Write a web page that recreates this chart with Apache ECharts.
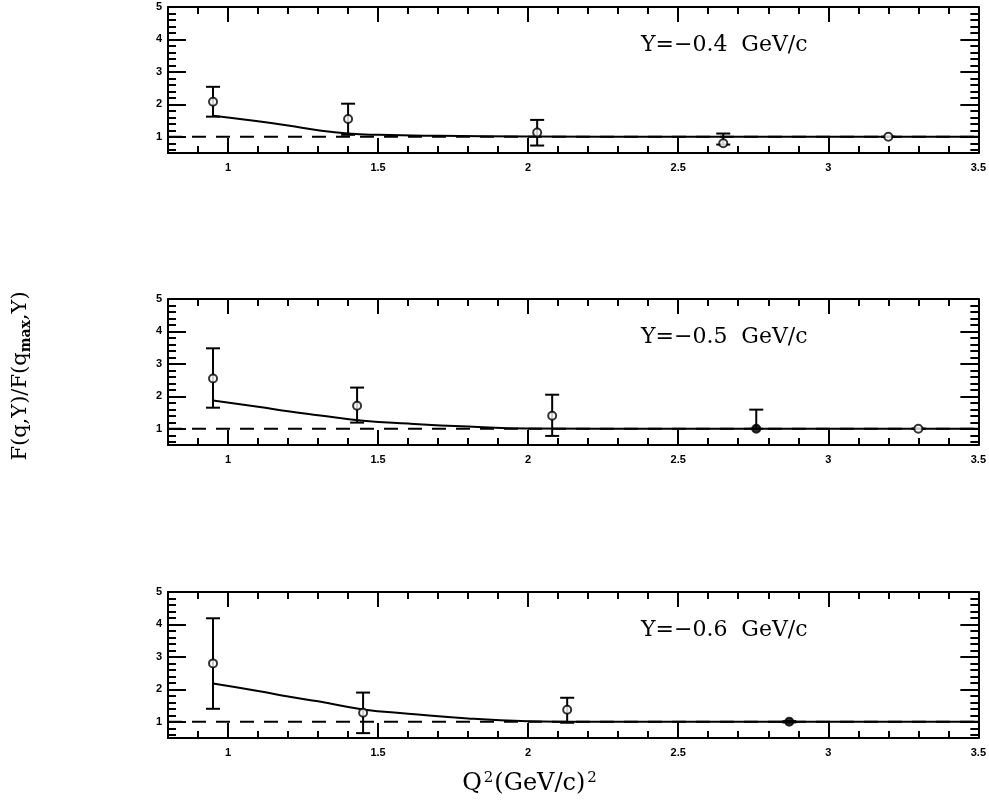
<!DOCTYPE html>
<html>
<head>
<meta charset="utf-8">
<script src="https://cdn.jsdelivr.net/npm/echarts@6.0.0/dist/echarts.min.js"></script>
<style>
  html, body { margin: 0; padding: 0; background: #fff; }
  #chart { width: 989px; height: 803px; }
</style>
</head>
<body>
<div id="chart"></div>
<script>
  // tick values
  const xMajor = [1, 1.5, 2, 2.5, 3, 3.5];
  const xMinor = [0.9, 1.1, 1.2, 1.3, 1.4, 1.6, 1.7, 1.8, 1.9, 2.1, 2.2, 2.3, 2.4,
                  2.6, 2.7, 2.8, 2.9, 3.1, 3.2, 3.3, 3.4];
  const yMajor = [1, 2, 3, 4, 5];
  const yMinor = [0.6, 0.8, 1.2, 1.4, 1.6, 1.8, 2.2, 2.4, 2.6, 2.8, 3.2, 3.4, 3.6, 3.8,
                  4.2, 4.4, 4.6, 4.8];

  // panel labels
  const panelLabels = ['Y=\u22120.4  GeV/c', 'Y=\u22120.5  GeV/c', 'Y=\u22120.6  GeV/c'];

  // Y = -0.4
  const q1 = [0.95, 1.40, 2.03, 2.65, 3.20];
  const f1 = [2.08, 1.55, 1.13, 0.80, 1.00];
  const f1Hi = [2.54, 2.02, 1.52, 1.10, 1.00];
  const f1Lo = [1.62, 1.06, 0.73, 0.76, 1.00];
  const curveQ1 = [0.95, 1.1, 1.2, 1.3, 1.4, 1.5, 1.7, 2.0, 2.5, 3.5];
  const curveF1 = [1.65, 1.48, 1.35, 1.2, 1.1, 1.06, 1.03, 1.01, 1.0, 1.0];

  // Y = -0.5
  const q2 = [0.95, 1.43, 2.08, 2.76, 3.30];
  const f2 = [2.55, 1.71, 1.40, 1.00, 1.00];
  const f2Hi = [3.48, 2.27, 2.05, 1.59, 1.00];
  const f2Lo = [1.65, 1.19, 0.78, 1.00, 1.00];
  const curveQ2 = [0.95, 1.1, 1.2, 1.3, 1.45, 1.6, 1.8, 2.0, 2.5, 3.5];
  const curveF2 = [1.87, 1.68, 1.54, 1.42, 1.25, 1.16, 1.07, 1.01, 1.0, 1.0];

  // Y = -0.6
  const q3 = [0.95, 1.45, 2.13, 2.87];
  const f3 = [2.80, 1.28, 1.37, 1.00];
  const f3Hi = [4.19, 1.90, 1.74, 1.02];
  const f3Lo = [1.40, 0.65, 0.97, 0.98];
  const curveQ3 = [0.95, 1.1, 1.2, 1.3, 1.45, 1.6, 1.8, 2.0, 2.2, 3.5];
  const curveF3 = [2.18, 1.95, 1.78, 1.63, 1.38, 1.25, 1.1, 1.02, 1.0, 1.0];

  // dashed reference at F = 1
  const refQ = [0.8, 3.5];
  const refF = [1, 1];

  const panels = [
    { q: q1, f: f1, hi: f1Hi, lo: f1Lo, cq: curveQ1, cf: curveF1, filled: [] },
    { q: q2, f: f2, hi: f2Hi, lo: f2Lo, cq: curveQ2, cf: curveF2, filled: [3] },
    { q: q3, f: f3, hi: f3Hi, lo: f3Lo, cq: curveQ3, cf: curveF3, filled: [3] }
  ];
  const gridTops = [7, 299, 592];
  const gridHeight = 146;

  const chart = echarts.init(document.getElementById('chart'), null, { renderer: 'canvas' });

  const serif = 'DejaVu Serif';
  const lineStyle = { color: '#000', width: 2 };
  const labelStyle = {
    color: '#000',
    fontFamily: 'Liberation Sans',
    fontWeight: 'bold',
    fontSize: 11
  };

  function xAxisPair(gi, pos) {
    const base = {
      gridIndex: gi,
      type: 'value',
      min: 0.8,
      max: 3.5,
      position: pos,
      splitLine: { show: false }
    };
    return [
      Object.assign({}, base, {
        axisLine: { show: true, onZero: false, lineStyle: lineStyle },
        axisTick: { show: true, inside: true, length: 15, customValues: xMajor, lineStyle: lineStyle },
        axisLabel: pos === 'bottom'
          ? Object.assign({ show: true, margin: 9, customValues: xMajor }, labelStyle)
          : { show: false }
      }),
      Object.assign({}, base, {
        axisLine: { show: false, onZero: false },
        axisTick: { show: true, inside: true, length: 7, customValues: xMinor, lineStyle: lineStyle },
        axisLabel: { show: false }
      })
    ];
  }

  function yAxisPair(gi, pos) {
    const base = {
      gridIndex: gi,
      type: 'value',
      min: 0.5,
      max: 5,
      position: pos,
      splitLine: { show: false }
    };
    return [
      Object.assign({}, base, {
        axisLine: { show: true, onZero: false, lineStyle: lineStyle },
        axisTick: { show: true, inside: true, length: 18, customValues: yMajor, lineStyle: lineStyle },
        axisLabel: pos === 'left'
          ? Object.assign({ show: true, margin: 6, customValues: yMajor }, labelStyle)
          : { show: false }
      }),
      Object.assign({}, base, {
        axisLine: { show: false, onZero: false },
        axisTick: { show: true, inside: true, length: 8, customValues: yMinor, lineStyle: lineStyle },
        axisLabel: { show: false }
      })
    ];
  }

  const grids = [];
  const xAxes = [];
  const yAxes = [];
  const series = [];
  const titles = [];

  panels.forEach((p, i) => {
    grids.push({ left: 168, right: 10, top: gridTops[i], height: gridHeight });
    xAxes.push(...xAxisPair(i, 'bottom'), ...xAxisPair(i, 'top'));
    yAxes.push(...yAxisPair(i, 'left'), ...yAxisPair(i, 'right'));
    const xi = i * 4;
    const yi = i * 4;

    titles.push({
      text: panelLabels[i],
      left: 641,
      top: gridTops[i] + 27,
      padding: 0,
      textStyle: { fontFamily: serif, fontWeight: 'normal', fontSize: 22, color: '#000' }
    });

    series.push({
      type: 'line',
      xAxisIndex: xi,
      yAxisIndex: yi,
      data: refQ.map((q, k) => [q, refF[k]]),
      showSymbol: false,
      silent: true,
      lineStyle: { color: '#000', width: 2, type: [14, 10] }
    });

    series.push({
      type: 'line',
      xAxisIndex: xi,
      yAxisIndex: yi,
      data: p.cq.map((q, k) => [q, p.cf[k]]),
      smooth: true,
      showSymbol: false,
      silent: true,
      lineStyle: { color: '#000', width: 2 }
    });

    series.push({
      type: 'custom',
      xAxisIndex: xi,
      yAxisIndex: yi,
      data: p.q.map((q, k) => [q, p.lo[k], p.hi[k]]),
      silent: true,
      renderItem: function (params, api) {
        const top = api.coord([api.value(0), api.value(2)]);
        const bot = api.coord([api.value(0), api.value(1)]);
        const w = 7;
        const st = { stroke: '#000', lineWidth: 2 };
        return {
          type: 'group',
          children: [
            { type: 'line', shape: { x1: top[0], y1: top[1], x2: bot[0], y2: bot[1] }, style: st },
            { type: 'line', shape: { x1: top[0] - w, y1: top[1], x2: top[0] + w, y2: top[1] }, style: st },
            { type: 'line', shape: { x1: bot[0] - w, y1: bot[1], x2: bot[0] + w, y2: bot[1] }, style: st }
          ]
        };
      }
    });

    series.push({
      type: 'scatter',
      xAxisIndex: xi,
      yAxisIndex: yi,
      symbol: 'circle',
      symbolSize: 8,
      silent: true,
      data: p.q.map((q, k) => ({
        value: [q, p.f[k]],
        itemStyle: { color: p.filled.indexOf(k) >= 0 ? '#000' : '#fff' }
      })),
      itemStyle: { borderColor: '#000', borderWidth: 2 },
      z: 5
    });
  });

  chart.setOption({
    backgroundColor: '#fff',
    animation: false,
    title: titles,
    grid: grids,
    xAxis: xAxes,
    yAxis: yAxes,
    series: series,
    graphic: [
      {
        type: 'text',
        x: 21,
        y: 376,
        rotation: Math.PI / 2,
        style: {
          text: '{a|F(q,Y)/F(q}{s|max}{a|,Y)}',
          align: 'center',
          verticalAlign: 'middle',
          rich: {
            a: { fontFamily: serif, fontSize: 21, fill: '#000', color: '#000' },
            s: { fontFamily: serif, fontSize: 14, fontWeight: 'bold', fill: '#000', color: '#000', padding: [10, 0, 0, 0] }
          }
        }
      },
      {
        type: 'text',
        x: 530,
        y: 784,
        style: {
          text: '{a|Q}{s|2}{a|(GeV/c)}{s|2}',
          align: 'center',
          verticalAlign: 'middle',
          rich: {
            a: { fontFamily: serif, fontSize: 24, fill: '#000', color: '#000' },
            s: { fontFamily: serif, fontSize: 15, fill: '#000', color: '#000', padding: [0, 1, 12, 2] }
          }
        }
      }
    ]
  });
</script>
</body>
</html>
